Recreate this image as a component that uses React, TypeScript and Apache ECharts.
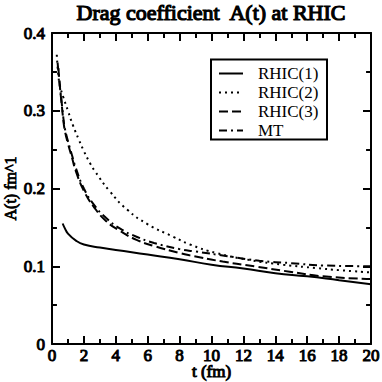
import React, { useEffect, useRef } from "react";
import * as echarts from "echarts";

const titleText = "Drag coefficient  A(t) at RHIC";
const xName = "t (fm)";
const yName = "A(t) fm^1";
const seriesNames = ["RHIC(1)", "RHIC(2)", "RHIC(3)", "MT"];

const rhic1T = [0.67, 0.8, 1, 1.5, 2, 3, 4, 5, 6, 8, 10, 12, 14, 16, 18, 20];
const rhic1A = [0.155, 0.149, 0.142, 0.133, 0.128, 0.124, 0.121, 0.118, 0.115, 0.109, 0.102, 0.097, 0.091, 0.087, 0.082, 0.077];

const rhic2T = [0.3, 0.4, 0.5, 0.7, 1, 1.3, 1.7, 2, 2.4, 2.7, 3.6, 4.7, 6, 7.6, 8.65, 10.3, 12.4, 14.5, 16.6, 18, 20];
const rhic2A = [0.372, 0.345, 0.332, 0.318, 0.3, 0.282, 0.262, 0.248, 0.232, 0.222, 0.197, 0.173, 0.154, 0.138, 0.128, 0.117, 0.108, 0.102, 0.0976, 0.095, 0.092];

const rhic3T = [0.4, 0.5, 0.6, 0.7, 0.8, 1, 1.25, 1.5, 2, 2.6, 3.4, 4.3, 5.3, 6.4, 8, 8.65, 10.7, 12.8, 14.9, 17, 20];
const rhic3A = [0.355, 0.33, 0.31, 0.29, 0.275, 0.258, 0.24, 0.222, 0.197, 0.177, 0.158, 0.145, 0.134, 0.126, 0.117, 0.114, 0.106, 0.0995, 0.093, 0.087, 0.0835];

const mtT = [0.35, 0.5, 0.6, 0.7, 0.8, 1, 1.25, 1.5, 2, 2.6, 3.4, 4.3, 5.3, 6.4, 8, 9, 11, 13, 15, 17, 20];
const mtA = [0.362, 0.33, 0.312, 0.293, 0.278, 0.261, 0.243, 0.226, 0.2, 0.18, 0.162, 0.148, 0.138, 0.13, 0.122, 0.119, 0.113, 0.107, 0.104, 0.101, 0.1];

const xMin = 0, xMax = 20, xStep = 2;
const yMin = 0, yMax = 0.4, yStep = 0.1;

const xMajorTicks = [2, 4, 6, 8, 10, 12, 14, 16, 18];
const xMinorTicks = [1, 3, 5, 7, 9, 11, 13, 15, 17, 19];
const yMajorTicks = [0.1, 0.2, 0.3];
const yMinorTicks = [0.05, 0.15, 0.25, 0.35];

const zip = (t: number[], a: number[]) => t.map((v, i) => [v, a[i]]);

const serif = "Liberation Serif";

export default function App() {
  const ref = useRef<HTMLDivElement>(null);
  useEffect(() => {
    if (!ref.current) return;
    const chart = echarts.init(ref.current, null, { renderer: "svg" });
    const axLine = () => ({ show: true, onZero: false, lineStyle: { color: "#000", width: 2 } });
    const labelFont = { color: "#000", fontFamily: serif, fontSize: 17, textBorderColor: "#000", textBorderWidth: 1 };
    const line = (name: string, data: number[][], type: any, width: number) => ({
      name,
      type: "line",
      data,
      showSymbol: false,
      symbol: "none",
      smooth: true,
      lineStyle: { color: "#000", width, type },
      itemStyle: { color: "#000" },
    });

    // tick lengths expressed in data units of the perpendicular axis
    const xTickMajor = 0.0103, xTickMinor = 0.0064; // length of x ticks, in A units
    const yTickMajor = 0.5, yTickMinor = 0.31; // length of y ticks, in t units
    const tickLines: any[] = [];
    const addX = (v: number, len: number) => {
      tickLines.push([{ coord: [v, yMin] }, { coord: [v, yMin + len] }]);
      tickLines.push([{ coord: [v, yMax] }, { coord: [v, yMax - len] }]);
    };
    const addY = (v: number, len: number) => {
      tickLines.push([{ coord: [xMin, v] }, { coord: [xMin + len, v] }]);
      tickLines.push([{ coord: [xMax, v] }, { coord: [xMax - len, v] }]);
    };
    xMajorTicks.forEach((v) => addX(v, xTickMajor));
    xMinorTicks.forEach((v) => addX(v, xTickMinor));
    yMajorTicks.forEach((v) => addY(v, yTickMajor));
    yMinorTicks.forEach((v) => addY(v, yTickMinor));

    const first: any = line(seriesNames[0], zip(rhic1T, rhic1A), "solid", 2);
    first.markLine = {
      silent: true,
      animation: false,
      symbol: ["none", "none"],
      label: { show: false },
      emphasis: { disabled: true },
      lineStyle: { color: "#000", width: 2, type: "solid" },
      data: tickLines,
    };

    chart.setOption({
      animation: false,
      backgroundColor: "#fff",
      grid: { left: 52, right: 11, top: 33, bottom: 38, containLabel: false, outerBoundsMode: "none" },
      xAxis: [
        {
          type: "value", min: xMin, max: xMax, interval: xStep, position: "bottom",
          axisLine: axLine(), axisTick: { show: false }, splitLine: { show: false },
          axisLabel: { ...labelFont, margin: 4, lineHeight: 15 },
          name: xName, nameLocation: "middle", nameGap: 19, nameMoveOverlap: false,
          nameTextStyle: { ...labelFont, fontSize: 17, lineHeight: 16 },
        },
        {
          type: "value", min: xMin, max: xMax, interval: xStep, position: "top",
          axisLine: axLine(), axisTick: { show: false }, splitLine: { show: false },
          axisLabel: { show: false },
        },
      ],
      yAxis: [
        {
          type: "value", min: yMin, max: yMax, interval: yStep, position: "left",
          axisLine: axLine(), axisTick: { show: false }, splitLine: { show: false },
          axisLabel: { ...labelFont, margin: 7, formatter: (v: number) => (v === 0 ? "0" : String(Math.round(v * 10) / 10)) },
          name: yName, nameLocation: "middle", nameGap: 34, nameMoveOverlap: false,
          nameTextStyle: { ...labelFont, fontSize: 16, textBorderWidth: 0.8 },
        },
        {
          type: "value", min: yMin, max: yMax, interval: yStep, position: "right",
          axisLine: axLine(), axisTick: { show: false }, splitLine: { show: false },
          axisLabel: { show: false },
        },
      ],
      legend: {
        orient: "vertical",
        left: 218,
        top: 65,
        itemWidth: 24,
        itemHeight: 14,
        itemGap: 2,
        padding: 0,
        data: seriesNames,
        itemStyle: { color: "transparent", borderWidth: 0, opacity: 0 },
        textStyle: { color: "#000", fontFamily: serif, fontSize: 17, lineHeight: 15, padding: [0, 0, 0, 10] },
      },
      graphic: [
        {
          type: "rect",
          shape: { x: 211, y: 59.5, width: 116, height: 80 },
          style: { fill: "transparent", stroke: "#000", lineWidth: 2 },
          z: 0,
        },
        {
          type: "text",
          x: 211,
          y: 1,
          style: {
            text: titleText,
            fill: "#000",
            fontFamily: serif,
            fontSize: 22,
            stroke: "#000",
            lineWidth: 1.2,
            textAlign: "center",
            textVerticalAlign: "top",
          },
        },
      ],
      series: [
        first,
        line(seriesNames[1], zip(rhic2T, rhic2A), [2, 4], 2),
        line(seriesNames[2], zip(rhic3T, rhic3A), [9, 4], 2),
        line(seriesNames[3], zip(mtT, mtA), [8, 4, 2, 4], 2),
      ],
    });
    return () => chart.dispose();
  }, []);
  return <div ref={ref} style={{ position: "fixed", left: 0, top: 0, width: 382, height: 382 }} />;
}
